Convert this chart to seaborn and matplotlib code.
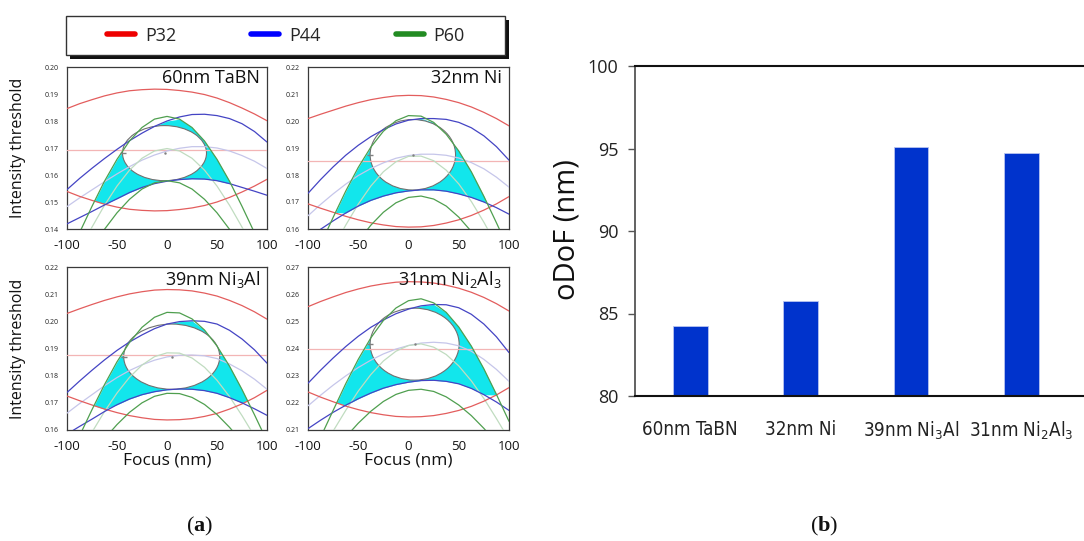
import numpy as np
import pandas as pd
import matplotlib
matplotlib.use("Agg")
import matplotlib.pyplot as plt
import seaborn as sns
from matplotlib.patches import Ellipse, Rectangle
from matplotlib.lines import Line2D
from matplotlib.ticker import FormatStrFormatter

# ---------------- data ----------------
FOCUS = [-100, -87.5, -75, -62.5, -50, -37.5, -25, -12.5, 0,
         12.5, 25, 37.5, 50, 62.5, 75, 87.5, 100]

# (a) 60nm TaBN
TABN_RED_UP = [0.1846, 0.1864, 0.1879, 0.1893, 0.1904, 0.1912, 0.1916, 0.1918, 0.1917,
               0.1913, 0.1907, 0.1898, 0.1885, 0.1868, 0.1848, 0.1826, 0.1801]
TABN_RED_LO = [0.1539, 0.1521, 0.1506, 0.1492, 0.1481, 0.1473, 0.1469, 0.1467, 0.1468,
               0.1472, 0.1478, 0.1487, 0.1500, 0.1517, 0.1537, 0.1559, 0.1584]
TABN_BLUE_UP = [0.1546, 0.1587, 0.1625, 0.1661, 0.1695, 0.1727, 0.1755, 0.1780, 0.1800,
                0.1815, 0.1824, 0.1825, 0.1820, 0.1809, 0.1790, 0.1761, 0.1722]
TABN_BLUE_LO = [0.1419, 0.1442, 0.1465, 0.1489, 0.1512, 0.1535, 0.1554, 0.1568, 0.1577,
                0.1583, 0.1586, 0.1585, 0.1579, 0.1568, 0.1554, 0.1540, 0.1525]
TABN_BLUE_MID = [0.1483, 0.1515, 0.1545, 0.1575, 0.1604, 0.1631, 0.1655, 0.1674, 0.1689,
                 0.1699, 0.1705, 0.1705, 0.1700, 0.1689, 0.1672, 0.1651, 0.1624]
TABN_GREEN_UP = [0.1287, 0.1386, 0.1484, 0.1577, 0.1658, 0.1726, 0.1776, 0.1807, 0.1817,
                 0.1807, 0.1776, 0.1726, 0.1658, 0.1577, 0.1484, 0.1386, 0.1287]
TABN_GREEN_LO = [0.1182, 0.1256, 0.1330, 0.1399, 0.1460, 0.1510, 0.1548, 0.1571, 0.1579,
                 0.1571, 0.1548, 0.1510, 0.1460, 0.1399, 0.1330, 0.1256, 0.1182]
TABN_GREEN_MID = [0.1235, 0.1321, 0.1407, 0.1488, 0.1559, 0.1618, 0.1662, 0.1689, 0.1698,
                  0.1689, 0.1662, 0.1618, 0.1559, 0.1488, 0.1407, 0.1321, 0.1235]
TABN_THRESH = 0.1692
TABN_WINDOW = [-2.5, 0.1681, 84.0, 0.0204]   # centre focus, centre threshold, width, height
TABN_YLIM = [0.14, 0.20]

# 32nm Ni
NI_RED_UP = [0.2009, 0.2025, 0.2040, 0.2055, 0.2068, 0.2079, 0.2087, 0.2093, 0.2095,
             0.2094, 0.2089, 0.2080, 0.2068, 0.2052, 0.2032, 0.2009, 0.1982]
NI_RED_LO = [0.1693, 0.1677, 0.1662, 0.1647, 0.1634, 0.1623, 0.1615, 0.1609, 0.1607,
             0.1608, 0.1613, 0.1622, 0.1634, 0.1650, 0.1670, 0.1693, 0.1720]
NI_BLUE_UP = [0.1732, 0.1783, 0.1830, 0.1873, 0.1910, 0.1942, 0.1968, 0.1989, 0.2003,
              0.2009, 0.2009, 0.2006, 0.1995, 0.1975, 0.1945, 0.1905, 0.1855]
NI_BLUE_LO = [0.1565, 0.1599, 0.1630, 0.1659, 0.1685, 0.1706, 0.1722, 0.1734, 0.1741,
              0.1745, 0.1745, 0.1740, 0.1730, 0.1717, 0.1700, 0.1679, 0.1655]
NI_BLUE_MID = [0.1649, 0.1691, 0.1730, 0.1766, 0.1798, 0.1824, 0.1845, 0.1862, 0.1872,
               0.1877, 0.1877, 0.1873, 0.1863, 0.1846, 0.1823, 0.1792, 0.1755]
NI_GREEN_UP = [0.1442, 0.1542, 0.1643, 0.1740, 0.1828, 0.1903, 0.1962, 0.2001, 0.2020,
               0.2018, 0.1995, 0.1951, 0.1889, 0.1812, 0.1721, 0.1623, 0.1522]
NI_GREEN_LO = [0.1268, 0.1339, 0.1414, 0.1487, 0.1555, 0.1614, 0.1662, 0.1697, 0.1717,
               0.1722, 0.1711, 0.1685, 0.1644, 0.1591, 0.1528, 0.1458, 0.1384]
NI_GREEN_MID = [0.1355, 0.1441, 0.1529, 0.1614, 0.1692, 0.1759, 0.1812, 0.1849, 0.1869,
                0.1870, 0.1853, 0.1818, 0.1767, 0.1702, 0.1625, 0.1541, 0.1453]
NI_THRESH = 0.1851
NI_WINDOW = [4.3, 0.1875, 85.0, 0.0261]
NI_YLIM = [0.16, 0.22]

# 39nm Ni3Al
NI3AL_RED_UP = [0.2029, 0.2046, 0.2062, 0.2077, 0.2090, 0.2101, 0.2109, 0.2115, 0.2117,
                0.2116, 0.2112, 0.2104, 0.2093, 0.2077, 0.2058, 0.2035, 0.2008]
NI3AL_RED_LO = [0.1725, 0.1708, 0.1692, 0.1677, 0.1664, 0.1653, 0.1645, 0.1639, 0.1637,
                0.1638, 0.1642, 0.1650, 0.1661, 0.1677, 0.1696, 0.1719, 0.1746]
NI3AL_BLUE_UP = [0.1738, 0.1780, 0.1820, 0.1858, 0.1893, 0.1924, 0.1950, 0.1973, 0.1990,
                 0.1999, 0.2002, 0.2000, 0.1990, 0.1967, 0.1935, 0.1895, 0.1846]
NI3AL_BLUE_LO = [0.1585, 0.1613, 0.1640, 0.1668, 0.1693, 0.1714, 0.1730, 0.1741, 0.1748,
                 0.1751, 0.1750, 0.1745, 0.1735, 0.1719, 0.1700, 0.1678, 0.1654]
NI3AL_BLUE_MID = [0.1662, 0.1697, 0.1730, 0.1763, 0.1793, 0.1819, 0.1840, 0.1857, 0.1869,
                  0.1875, 0.1876, 0.1873, 0.1863, 0.1843, 0.1818, 0.1787, 0.1750]
NI3AL_GREEN_UP = [0.1484, 0.1578, 0.1675, 0.1767, 0.1851, 0.1922, 0.1978, 0.2015, 0.2033,
                  0.2031, 0.2009, 0.1968, 0.1909, 0.1835, 0.1749, 0.1656, 0.1559]
NI3AL_GREEN_LO = [0.1389, 0.1449, 0.1509, 0.1568, 0.1620, 0.1665, 0.1700, 0.1724, 0.1735,
                  0.1734, 0.1720, 0.1694, 0.1657, 0.1610, 0.1556, 0.1497, 0.1437]
NI3AL_GREEN_MID = [0.1437, 0.1514, 0.1592, 0.1668, 0.1736, 0.1794, 0.1839, 0.1870, 0.1884,
                   0.1883, 0.1865, 0.1831, 0.1783, 0.1723, 0.1653, 0.1577, 0.1498]
NI3AL_THRESH = 0.1877
NI3AL_WINDOW = [4.7, 0.1870, 96.0, 0.0240]
NI3AL_YLIM = [0.16, 0.22]

# 31nm Ni2Al3
NI2AL3_RED_UP = [0.2554, 0.2573, 0.2590, 0.2606, 0.2619, 0.2630, 0.2638, 0.2644, 0.2646,
                 0.2645, 0.2641, 0.2633, 0.2622, 0.2607, 0.2588, 0.2565, 0.2538]
NI2AL3_RED_LO = [0.2240, 0.2221, 0.2204, 0.2188, 0.2175, 0.2164, 0.2156, 0.2150, 0.2148,
                 0.2149, 0.2153, 0.2161, 0.2172, 0.2187, 0.2206, 0.2229, 0.2256]
NI2AL3_BLUE_UP = [0.2272, 0.2320, 0.2365, 0.2407, 0.2445, 0.2478, 0.2505, 0.2528, 0.2545,
                  0.2557, 0.2562, 0.2561, 0.2550, 0.2526, 0.2490, 0.2443, 0.2385]
NI2AL3_BLUE_LO = [0.2105, 0.2136, 0.2165, 0.2191, 0.2215, 0.2236, 0.2254, 0.2267, 0.2276,
                  0.2282, 0.2283, 0.2279, 0.2270, 0.2253, 0.2230, 0.2203, 0.2172]
NI2AL3_BLUE_MID = [0.2189, 0.2228, 0.2265, 0.2299, 0.2330, 0.2357, 0.2380, 0.2398, 0.2411,
                   0.2420, 0.2423, 0.2420, 0.2410, 0.2390, 0.2360, 0.2323, 0.2279]
NI2AL3_GREEN_UP = [0.1977, 0.2073, 0.2172, 0.2270, 0.2360, 0.2439, 0.2503, 0.2549, 0.2576,
                   0.2583, 0.2568, 0.2533, 0.2479, 0.2409, 0.2325, 0.2231, 0.2132]
NI2AL3_GREEN_LO = [0.1911, 0.1964, 0.2020, 0.2074, 0.2125, 0.2169, 0.2205, 0.2231, 0.2246,
                   0.2250, 0.2242, 0.2222, 0.2192, 0.2153, 0.2106, 0.2053, 0.1998]
NI2AL3_GREEN_MID = [0.1944, 0.2019, 0.2096, 0.2172, 0.2243, 0.2304, 0.2354, 0.2390, 0.2411,
                    0.2417, 0.2405, 0.2378, 0.2336, 0.2281, 0.2216, 0.2142, 0.2065]
NI2AL3_THRESH = 0.2397
NI2AL3_WINDOW = [6.1, 0.2416, 88.6, 0.0265]
NI2AL3_YLIM = [0.21, 0.27]

PANEL_TITLES = ["60nm TaBN", "32nm Ni", "39nm Ni$_3$Al", "31nm Ni$_2$Al$_3$"]
LEGEND_LABELS = ["P32", "P44", "P60"]

# (b)
MATERIALS = ["60nm TaBN", "32nm Ni", "39nm Ni$_3$Al", "31nm Ni$_2$Al$_3$"]
ODOF = [84.25, 85.75, 95.08, 94.75]

# ---------------- style ----------------
sns.set_theme(style="white")
plt.rcParams["font.family"] = ["Open Sans", "DejaVu Sans"]
plt.rcParams["mathtext.fontset"] = "custom"
plt.rcParams["mathtext.default"] = "regular"
plt.rcParams["mathtext.bf"] = "Liberation Serif:bold"
plt.rcParams["axes.unicode_minus"] = False

RED, BLUE, GREEN = "#e35d5d", "#4444c4", "#4f9f4f"
BLUE_FADED, GREEN_FADED, PINK = "#c6c6ea", "#c0dcc0", "#f3b5b5"
CYAN = "#12e6ec"
BAR_COLOR = "#0033cc"

W, H = 1084, 541
fig = plt.figure(figsize=(W / 100, H / 100), dpi=100)
fig.patch.set_facecolor("white")


def fpos(left, top, right, bottom):
    return [left / W, 1 - bottom / H, (right - left) / W, (bottom - top) / H]


panels = [
    dict(pos=fpos(67, 67, 267, 229), ylim=TABN_YLIM, red=(TABN_RED_UP, TABN_RED_LO),
         blue=(TABN_BLUE_UP, TABN_BLUE_LO, TABN_BLUE_MID),
         green=(TABN_GREEN_UP, TABN_GREEN_LO, TABN_GREEN_MID),
         thresh=TABN_THRESH, window=TABN_WINDOW, ylab=True, xlab=False),
    dict(pos=fpos(308, 67, 509, 229), ylim=NI_YLIM, red=(NI_RED_UP, NI_RED_LO),
         blue=(NI_BLUE_UP, NI_BLUE_LO, NI_BLUE_MID),
         green=(NI_GREEN_UP, NI_GREEN_LO, NI_GREEN_MID),
         thresh=NI_THRESH, window=NI_WINDOW, ylab=False, xlab=False),
    dict(pos=fpos(67, 267, 267, 430), ylim=NI3AL_YLIM, red=(NI3AL_RED_UP, NI3AL_RED_LO),
         blue=(NI3AL_BLUE_UP, NI3AL_BLUE_LO, NI3AL_BLUE_MID),
         green=(NI3AL_GREEN_UP, NI3AL_GREEN_LO, NI3AL_GREEN_MID),
         thresh=NI3AL_THRESH, window=NI3AL_WINDOW, ylab=True, xlab=True),
    dict(pos=fpos(308, 267, 509, 430), ylim=NI2AL3_YLIM, red=(NI2AL3_RED_UP, NI2AL3_RED_LO),
         blue=(NI2AL3_BLUE_UP, NI2AL3_BLUE_LO, NI2AL3_BLUE_MID),
         green=(NI2AL3_GREEN_UP, NI2AL3_GREEN_LO, NI2AL3_GREEN_MID),
         thresh=NI2AL3_THRESH, window=NI2AL3_WINDOW, ylab=False, xlab=True),
]

xf = np.array(FOCUS, dtype=float)
for p, title in zip(panels, PANEL_TITLES):
    ax = fig.add_axes(p["pos"])
    ax.set_facecolor("white")
    red_up, red_lo = (np.array(a) for a in p["red"])
    blue_up, blue_lo, blue_mid = (np.array(a) for a in p["blue"])
    green_up, green_lo, green_mid = (np.array(a) for a in p["green"])

    # process window: overlap of the three line ranges
    upper = np.minimum.reduce([red_up, blue_up, green_up])
    lower = np.maximum.reduce([red_lo, blue_lo, green_lo])
    ax.fill_between(xf, lower, upper, where=upper > lower, interpolate=True,
                    color=CYAN, lw=0, zorder=1)
    cx, cy, w, h = p["window"]
    ax.add_patch(Ellipse((cx, cy), w, h, facecolor="white", edgecolor="#707070",
                         lw=0.8, zorder=2))
    ax.axhline(p["thresh"], color=PINK, lw=0.9, zorder=3)

    for arr, col in [(blue_mid, BLUE_FADED), (green_mid, GREEN_FADED),
                     (red_up, RED), (red_lo, RED),
                     (blue_up, BLUE), (blue_lo, BLUE),
                     (green_up, GREEN), (green_lo, GREEN)]:
        sns.lineplot(x=xf, y=arr, ax=ax, color=col, lw=0.9, zorder=4, legend=False)

    ax.plot([cx - w / 2], [cy], marker="_", color="#808080", ms=4, zorder=5)
    ax.plot([cx], [cy], marker=".", color="#808080", ms=1.5, zorder=5)

    ax.set_xlim(-100, 100)
    ax.set_ylim(*p["ylim"])
    ax.set_xticks([-100, -50, 0, 50, 100])
    ax.set_yticks(np.linspace(p["ylim"][0], p["ylim"][1], 7))
    ax.yaxis.set_major_formatter(FormatStrFormatter("%.2f"))
    ax.tick_params(axis="y", labelsize=5, length=0, pad=6, labelcolor="#222222")
    ax.tick_params(axis="x", labelsize=9.5, length=0, pad=7, labelcolor="#111111")
    for s in ax.spines.values():
        s.set_color("#3a3a3a")
        s.set_linewidth(0.9)
    ax.set_xlabel("")
    ax.set_ylabel("")
    ax.text(0.965, 0.985, title, transform=ax.transAxes, ha="right", va="top",
            fontsize=13, color="#111111", zorder=6)
    if p["ylab"]:
        ax.set_ylabel("Intensity threshold", fontsize=11.5, va="center", color="#111111")
        ax.yaxis.set_label_coords(-0.245, 0.5)
    if p["xlab"]:
        ax.set_xlabel("Focus (nm)", fontsize=12.5, va="center", color="#111111")
        ax.xaxis.set_label_coords(0.5, -0.19)

# legend box with shadow
fig.add_artist(Rectangle((70 / W, 1 - 59 / H), 439 / W, 39 / H, transform=fig.transFigure,
                         facecolor="#111111", edgecolor="none", zorder=0))
fig.add_artist(Rectangle((66 / W, 1 - 55 / H), 439 / W, 39 / H, transform=fig.transFigure,
                         facecolor="white", edgecolor="#333333", lw=1.0, zorder=1))
handles = [Line2D([], [], color=c, lw=4) for c in ["#ee0000", "#0000ff", "#228b22"]]
leg = fig.legend(handles, LEGEND_LABELS, loc="center", bbox_to_anchor=(286 / W, 1 - 35.5 / H),
                 ncol=3, frameon=False, fontsize=13, handlelength=1.55, handletextpad=0.55,
                 columnspacing=4.15)
leg.set_zorder(2)

# (b) bar chart
axb = fig.add_axes([635 / W, 1 - 396 / H, 452 / W, 330 / H])
df = pd.DataFrame({"material": MATERIALS, "odof": ODOF})
sns.barplot(data=df, x="material", y="odof", color=BAR_COLOR, saturation=1, width=0.315,
            edgecolor="#b8c4f0", linewidth=0.6, ax=axb)
axb.set_ylim(80, 100)
axb.set_xlim(-0.5, 3.594)
axb.set_yticks([80, 85, 90, 95, 100])
axb.set_xlabel("")
axb.set_ylabel("oDoF (nm)", fontsize=21, va="center", color="#111111")
axb.yaxis.set_label_coords(-0.150, 0.503)
axb.tick_params(axis="y", left=True, length=5, width=1.0, color="#555555", pad=7,
                labelsize=13, labelcolor="#222222")
axb.tick_params(axis="x", bottom=False, length=0, pad=17, labelsize=13.5, labelcolor="#222222")
for lab in axb.get_xticklabels():
    lab.set_fontfamily("DejaVu Sans")
    lab.set_fontstretch("condensed")
axb.spines["left"].set_color("#555555")
axb.spines["left"].set_linewidth(1.3)
axb.spines["top"].set_color("#111111")
axb.spines["top"].set_linewidth(1.5)
axb.spines["bottom"].set_color("#111111")
axb.spines["bottom"].set_linewidth(1.5)
axb.spines["right"].set_color("#111111")

fig.text(200 / W, 1 - 526 / H, r"($\mathbf{a}$)", family="Liberation Serif", fontsize=16,
         ha="center", va="center", color="#111111")
fig.text(824 / W, 1 - 526 / H, r"($\mathbf{b}$)", family="Liberation Serif", fontsize=16,
         ha="center", va="center", color="#111111")

fig.savefig("out.png", dpi=100, facecolor="white")
